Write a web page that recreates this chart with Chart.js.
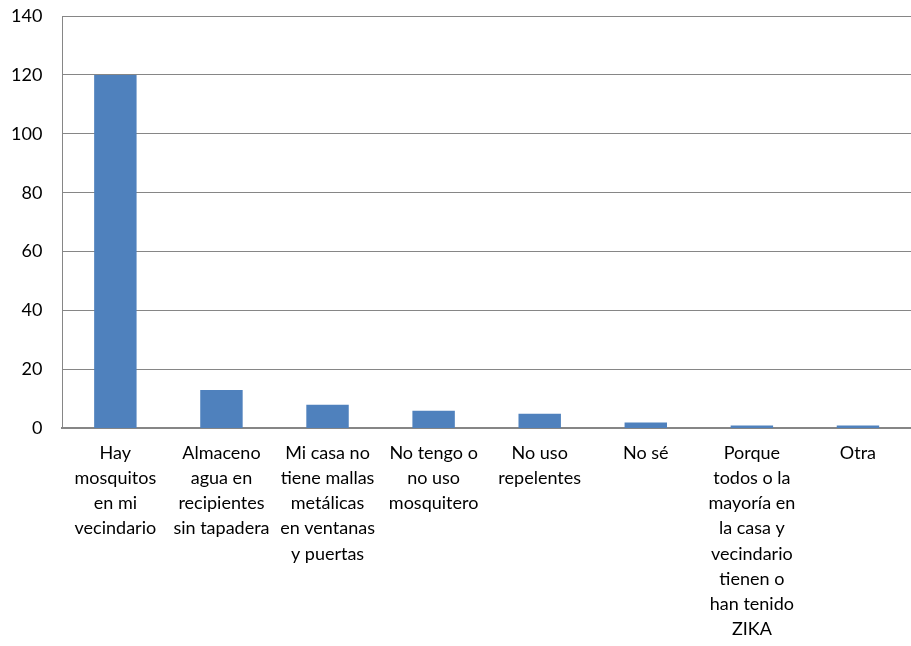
<!DOCTYPE html>
<html>
<head>
<meta charset="utf-8">
<script src="https://cdn.jsdelivr.net/npm/chart.js@4"></script>
<style>
  html, body { margin: 0; padding: 0; background: #fff; }
  #wrap { width: 911px; height: 646px; }
</style>
</head>
<body>
<div id="wrap"><canvas id="motivosChart" width="911" height="646"></canvas></div>
<script>
const categories = [
    ['Hay', 'mosquitos', 'en mi', 'vecindario'],
    ['Almaceno', 'agua en', 'recipientes', 'sin tapadera'],
    ['Mi casa no', 'tiene mallas', 'metálicas', 'en ventanas', 'y puertas'],
    ['No tengo o', 'no uso', 'mosquitero'],
    ['No uso', 'repelentes'],
    ['No sé'],
    ['Porque', 'todos o la', 'mayoría en', 'la casa y', 'vecindario', 'tienen o', 'han tenido', 'ZIKA'],
    ['Otra']
];
const respuestas = [120, 13, 8, 6, 5, 2, 1, 1];
const yTicks = [0, 20, 40, 60, 80, 100, 120, 140];

document.addEventListener('DOMContentLoaded', function() {
    const ctx = document.getElementById('motivosChart').getContext('2d');
    new Chart(ctx, {
        type: 'bar',
        data: {
            labels: categories,
            datasets: [{
                label: 'Respuestas',
                data: respuestas,
                backgroundColor: '#4F81BD',
                borderWidth: 0,
                barPercentage: 0.40,
                categoryPercentage: 1
            }]
        },
        options: {
            responsive: false,
            animation: false,
            // the original plot runs past the right edge of the picture
            layout: { padding: { top: 16, right: -12, bottom: -8, left: -9 } },
            plugins: {
                legend: { display: false },
                tooltip: { enabled: false }
            },
            scales: {
                x: {
                    grid: { display: false, drawTicks: false },
                    border: { color: '#868686', width: 2 },
                    ticks: {
                        autoSkip: false,
                        maxRotation: 0,
                        padding: 12,
                        color: '#000',
                        font: { family: 'Lato, "Open Sans", sans-serif', size: 18, lineHeight: 1.4 }
                    }
                },
                y: {
                    min: 0,
                    max: 140,
                    afterBuildTicks: function(axis) {
                        axis.ticks = yTicks.map(function(v) { return { value: v }; });
                    },
                    afterFit: function(axis) {
                        // tick padding otherwise pushes the plot down
                        axis.paddingTop = 0;
                        axis.paddingBottom = 0;
                    },
                    grid: { color: '#868686', drawTicks: false },
                    border: { color: '#868686', width: 1 },
                    ticks: {
                        padding: 20,
                        color: '#000',
                        font: { family: 'Lato, "Open Sans", sans-serif', size: 18 }
                    }
                }
            }
        }
    });
});
</script>
</body>
</html>
